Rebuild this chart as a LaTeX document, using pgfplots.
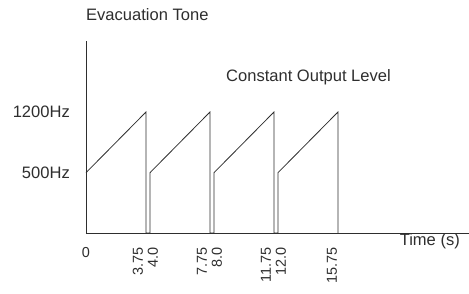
\documentclass[border=0pt]{standalone}
\usepackage{fontspec}
\setmainfont{Liberation Sans}
\usepackage{pgfplots}
\pgfplotsset{compat=1.18}
\definecolor{ink}{HTML}{2E2E2E}
\newcommand{\bigf}{\fontsize{16.6}{19}\selectfont}
\newcommand{\tickf}{\fontsize{14.5}{17}\selectfont}
\begin{document}
\begin{tikzpicture}
\begin{axis}[
  name=ax,
  scale only axis, width=383bp, height=192bp,
  xmin=0, xmax=23.94, ymin=-195.4, ymax=2018.8,
  axis lines=left, axis line style={-, draw=ink, line width=0.8bp},
  clip=false,
  major tick length=0pt,
  xtick={0,3.75,4,7.75,8,11.75,12,15.75},
  xticklabels={0,
    {\rotatebox{90}{3.75}\kern16bp}, {\kern6bp\rotatebox{90}{4.0}},
    {\rotatebox{90}{7.75}\kern16bp}, {\kern6bp\rotatebox{90}{8.0}},
    {\rotatebox{90}{11.75}\kern16bp}, {\kern6bp\rotatebox{90}{12.0}},
    {\rotatebox{90}{15.75}\kern12bp}},
  xticklabel style={anchor=north, inner sep=0pt, yshift=-14bp, font=\tickf, text=ink},
  ytick={500,1200}, yticklabels={500Hz,1200Hz},
  yticklabel style={anchor=east, inner sep=0pt, xshift=-16bp, font=\bigf, text=ink},
  xlabel={Time (s)},
  x label style={at={(axis description cs:0.9765,0)}, anchor=east, inner sep=0pt, yshift=-8bp, font=\bigf, text=ink},
]
\addplot[ink, line width=0.8bp] coordinates {
  (0,500) (3.75,1200) (3.75,-195.4)
  (4,-195.4) (4,500) (7.75,1200) (7.75,-195.4)
  (8,-195.4) (8,500) (11.75,1200) (11.75,-195.4)
  (12,-195.4) (12,500) (15.75,1200) (15.75,-195.4)
};
\node[anchor=west, inner sep=0pt, font=\bigf, text=ink] at (axis cs:8.75,1604) {Constant Output Level};
\end{axis}
\node[anchor=west, inner sep=0pt, font=\bigf, text=ink] at ([yshift=26.5bp]ax.north west) {Evacuation Tone};
\pgfresetboundingbox
\path (ax.south west) ++(-86bp,-61bp) rectangle ++(469bp,294bp);
\end{tikzpicture}
\end{document}
